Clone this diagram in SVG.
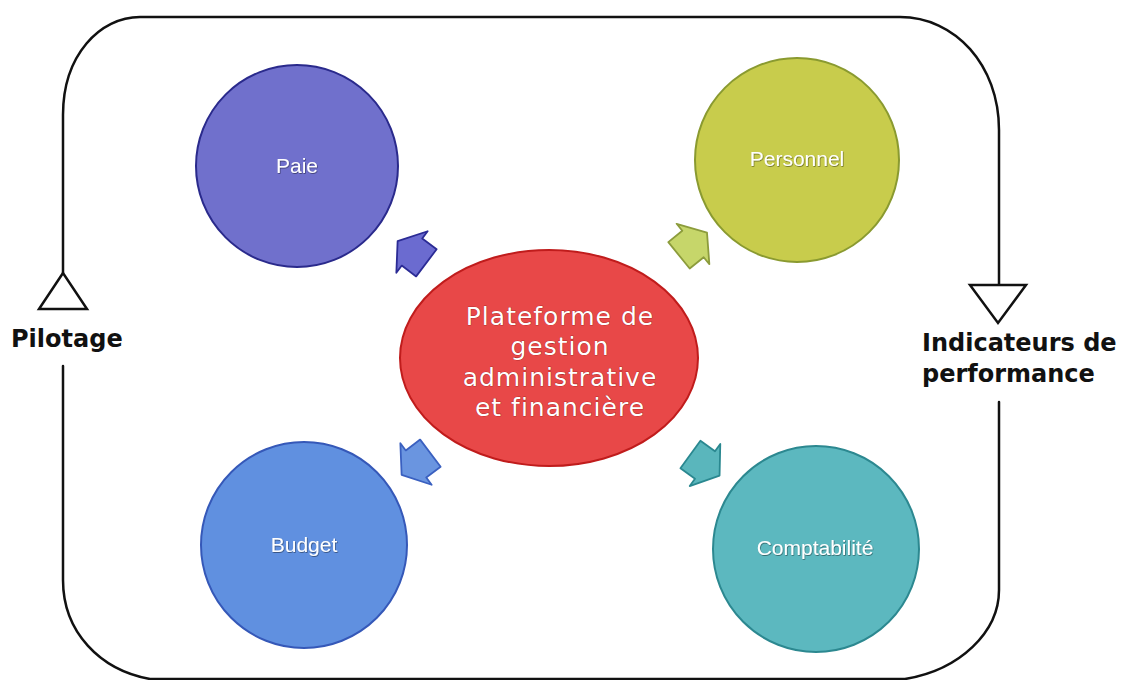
<svg xmlns="http://www.w3.org/2000/svg" width="1124" height="680" viewBox="0 0 1124 680">
<defs>
<style>
.frame{fill:none;stroke:#111;stroke-width:2.5;stroke-linecap:round}
.tri{fill:#fff;stroke:#111;stroke-width:2.5;stroke-linejoin:miter}
.side{font-family:"DejaVu Sans",sans-serif;font-weight:bold;font-size:24px;fill:#111}
.main{font-family:"DejaVu Sans",sans-serif;font-size:25px;fill:#fff;letter-spacing:1px;text-anchor:middle;stroke:#8a1010;stroke-width:0.6;paint-order:stroke}
.lbl{font-family:"Liberation Sans",sans-serif;font-size:21px;fill:#fff;text-anchor:middle;filter:url(#sh)}
.arr{stroke-width:1.8;stroke-linejoin:round}
</style>
<filter id="sh" x="-20%" y="-40%" width="140%" height="180%">
<feDropShadow dx="0.6" dy="0.8" stdDeviation="0.6" flood-color="#000" flood-opacity="0.5"/>
</filter>
<path id="ar" d="M-18,-17 L0,-17 L0,-26 L18,0 L0,26 L0,17 L-18,17 Z"/>
</defs>
<rect width="1124" height="680" fill="#fff"/>
<g id="frame">
<path class="frame" d="M63,273 L63,115 C63,55 100,17 140,17 L900,17 C955,17 999,65 999,130 L999,285"/>
<path class="frame" d="M63,366 L63,580 C63,632 100,670 150,679 L905,679 C960,670 999,632 999,590 L999,402"/>
<polygon class="tri" points="63,273 39,309 87,309"/>
<polygon class="tri" points="970,285 1026,285 998,323"/>
</g>
<g id="pilotage"><text class="side" x="11" y="347">Pilotage</text></g>
<g id="indicateurs"><text class="side" x="922" y="351">Indicateurs de</text><text class="side" x="922" y="382">performance</text></g>
<g id="connectors">
<use href="#ar" class="arr" transform="translate(412,252) rotate(-143)" fill="#6b6bd0" stroke="#2b2b95"/>
<use href="#ar" class="arr" transform="translate(693,244) rotate(-39)" fill="#c6d66a" stroke="#8c9c3c"/>
<use href="#ar" class="arr" transform="translate(416,464) rotate(143)" fill="#6a95e0" stroke="#3a60c0"/>
<use href="#ar" class="arr" transform="translate(705,465) rotate(36)" fill="#5ab6bc" stroke="#2a8890"/>
</g>
<g id="paie">
<circle cx="297" cy="166" r="101" fill="#7070cc" stroke="#2a2a8c" stroke-width="2"/>
<text class="lbl" x="297" y="173">Paie</text>
</g>
<g id="personnel">
<circle cx="797" cy="160" r="102" fill="#c8cc4c" stroke="#8a9a30" stroke-width="2"/>
<text class="lbl" x="797" y="166">Personnel</text>
</g>
<g id="budget">
<circle cx="304" cy="545" r="103" fill="#6090e0" stroke="#3558b8" stroke-width="2"/>
<text class="lbl" x="304" y="552">Budget</text>
</g>
<g id="comptabilite">
<circle cx="816" cy="549" r="103" fill="#5cb8bf" stroke="#2c8890" stroke-width="2"/>
<text class="lbl" x="815" y="555">Comptabilité</text>
</g>
<g id="plateforme">
<ellipse cx="549" cy="358" rx="149" ry="108" fill="#e84848" stroke="#c01c1c" stroke-width="2"/>
<text class="main" x="560" y="325">Plateforme de</text>
<text class="main" x="560" y="355">gestion</text>
<text class="main" x="560" y="386">administrative</text>
<text class="main" x="560" y="416">et financière</text>
</g>
</svg>
